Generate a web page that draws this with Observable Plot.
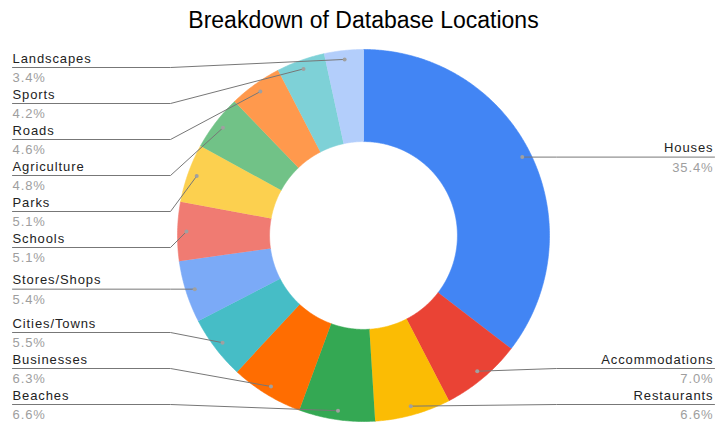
<!DOCTYPE html>
<html><head><meta charset="utf-8">
<script src="https://cdn.jsdelivr.net/npm/d3@7"></script>
<script src="https://cdn.jsdelivr.net/npm/@observablehq/plot@0.6"></script>
<style>body{margin:0;background:#fff;}</style>
</head><body><div id="chart"></div>
<script>
const categories = ["Houses","Accommodations","Restaurants","Beaches","Businesses","Cities/Towns","Stores/Shops","Schools","Parks","Agriculture","Roads","Sports","Landscapes"];
const values = [35.4,7.0,6.6,6.6,6.3,5.5,5.4,5.1,5.1,4.8,4.6,4.2,3.4];
const colors = ["#4285f4","#ea4335","#fbbc04","#34a853","#ff6d01","#46bdc6","#7baaf7","#f07b72","#fcd04f","#71c287","#ff994d","#7ed1d7","#b3cefb"];
const chartTitle = "Breakdown of Database Locations";

const W = 715, H = 423, CX = 363, CY = 235, R = 186, INNER = 0.505, DOT = 0.952;
const TOP = 67, BOTTOM = 404, GAP = 36;
const toPy = y => CY - y * R, toUy = py => (CY - py) / R, toUx = px => (px - CX) / R;

const total = d3.sum(values);
let cum = 0;
const slices = categories.map((name, i) => {
  const a0 = cum / total * 2 * Math.PI; cum += values[i];
  const a1 = cum / total * 2 * Math.PI;
  return {name, value: values[i], a0, a1, mid: (a0 + a1) / 2};
});
const pt = (a, r) => ({x: r * Math.sin(a), y: r * Math.cos(a)});

const ring = [];
for (const s of slices) {
  const n = Math.max(2, Math.ceil((s.a1 - s.a0) / (Math.PI / 360)));
  for (let k = 0; k <= n; k++) ring.push({name: s.name, ...pt(s.a0 + (s.a1 - s.a0) * k / n, 1)});
  for (let k = n; k >= 0; k--) ring.push({name: s.name, ...pt(s.a0 + (s.a1 - s.a0) * k / n, INNER)});
}

const labels = slices.map(s => {
  const d = pt(s.mid, DOT);
  return {...s, dx: d.x, dy: d.y, side: s.mid > Math.PI ? "left" : "right", ly: toPy(d.y)};
});
function layout(items) {
  items.sort((a, b) => a.ly - b.ly);
  for (let i = 0; i < items.length; i++) {
    const min = i === 0 ? TOP : items[i - 1].ly + GAP;
    if (items[i].ly < min) items[i].ly = min;
  }
  for (let i = items.length - 1; i >= 0; i--) {
    const max = i === items.length - 1 ? BOTTOM : items[i + 1].ly - GAP;
    if (items[i].ly > max) items[i].ly = max;
  }
}
const leftLabels = labels.filter(d => d.side === "left");
const rightLabels = labels.filter(d => d.side === "right");
layout(leftLabels);
layout(rightLabels);

const leaders = [];
for (const l of labels) {
  const left = l.side === "left";
  const kneeX = left ? 170 : 556, endX = left ? 12 : 714;
  leaders.push({name: l.name, x: l.dx, y: l.dy});
  leaders.push({name: l.name, x: toUx(kneeX), y: toUy(l.ly)});
  leaders.push({name: l.name, x: toUx(endX), y: toUy(l.ly)});
}

const nameOpts = {y: d => toUy(d.ly - 9), text: "name", fontSize: 13, fill: "#222", lineAnchor: "middle"};
const pctOpts = {y: d => toUy(d.ly + 10.8), text: d => d.value.toFixed(1) + "%", fontSize: 13, fill: "#9e9e9e", lineAnchor: "middle"};

const chart = Plot.plot({
  width: W, height: H, margin: 0,
  style: {fontFamily: "'Liberation Sans', Arial, sans-serif", background: "#fff", letterSpacing: "0.9px"},
  x: {domain: [toUx(0), toUx(W)], range: [0, W], axis: null},
  y: {domain: [toUy(0), toUy(H)], range: [0, H], axis: null},
  color: {type: "ordinal", domain: categories, range: colors},
  marks: [
    Plot.line(ring, {x: "x", y: "y", z: "name", fill: "name", stroke: "name", strokeWidth: 0.6}),
    Plot.line(leaders, {x: "x", y: "y", z: "name", stroke: "#777", strokeWidth: 1}),
    Plot.dot(labels, {x: "dx", y: "dy", r: 2, fill: "#a0a0a0", stroke: null}),
    Plot.text(leftLabels, {...nameOpts, x: () => toUx(12), textAnchor: "start"}),
    Plot.text(rightLabels, {...nameOpts, x: () => toUx(713), textAnchor: "end"}),
    Plot.text(leftLabels, {...pctOpts, x: () => toUx(12), textAnchor: "start"}),
    Plot.text(rightLabels, {...pctOpts, x: () => toUx(713), textAnchor: "end"}),
    Plot.text([chartTitle], {x: () => 0, frameAnchor: "top", lineAnchor: "top", dy: 11, text: d => d, fontSize: 23, fill: "#000"})
  ]
});
chart.querySelectorAll("text").forEach(t => { if (t.textContent === chartTitle) t.style.letterSpacing = "0px"; });
document.getElementById("chart").appendChild(chart);
</script>
</body></html>
